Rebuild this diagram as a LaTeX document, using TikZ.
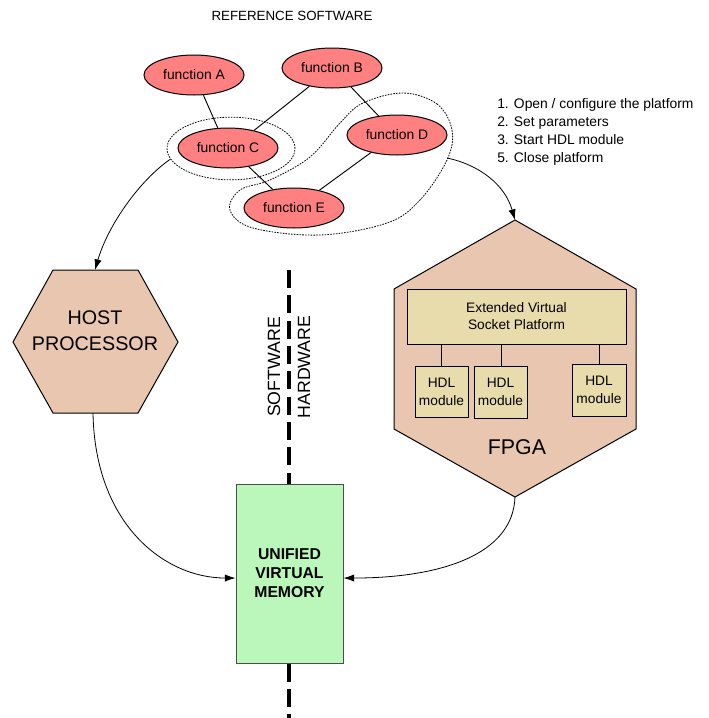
\documentclass[tikz,border=0pt]{standalone}
\usepackage{fontspec}
\setmainfont{Liberation Sans}
\usetikzlibrary{shapes.geometric,arrows.meta}
\definecolor{funcred}{HTML}{FF8080}
\definecolor{hexfill}{HTML}{E8C6AF}
\definecolor{boxfill}{HTML}{E8DCAD}
\definecolor{memfill}{HTML}{BBF7BA}
\tikzset{
  func/.style={ellipse, draw, line width=0.75pt, fill=funcred, minimum width=75pt, minimum height=30pt, inner sep=0pt, font=\fontsize{10.4}{12}\selectfont},
  link/.style={line width=0.7pt},
  grp/.style={line width=0.6pt, dash pattern=on 1.2pt off 0.9pt},
  hexa/.style={draw, line width=0.75pt, fill=hexfill},
  ybox/.style={draw, line width=0.75pt, fill=boxfill, inner sep=0pt, align=center},
  arr/.style={line width=0.6pt, -{Latex[length=8pt,width=5.5pt]}},
  divider/.style={line width=2.4pt, dash pattern=on 13.5pt off 5.5pt},
  plain/.style={inner sep=0pt, align=center}
}
\begin{document}
\begin{tikzpicture}[x=0.75pt,y=-0.75pt]
\path[use as bounding box] (0,0) rectangle (708,718);

% title
\node[plain, font=\fontsize{10}{12}\selectfont] (title) at (292,16) {REFERENCE SOFTWARE};

% function ellipses
\node[func] (A) at (194,75) {function A};
\node[func] (B) at (332,68) {function B};
\node[func] (C) at (228,148) {function C};
\node[func] (D) at (397,135) {function D};
\node[func] (E) at (294,208) {function E};

\draw[link] (A.-65) -- (C.117);
\draw[link] (B.-141) -- (C.34);
\draw[link] (B.-45) -- (D.134);
\draw[link] (D.-146) -- (E.35);
\draw[link] (C.-42) -- (E.139);

% dotted groups
\node[ellipse, grp, draw, minimum width=96pt, minimum height=47pt, inner sep=0pt] (grpC) at (231,148.5) {};
\draw[grp] plot[smooth cycle, tension=0.6] coordinates {(403,93) (437,104) (452,130) (447,160) (420,200) (387,223) (320,235) (253,228) (230,210) (240,190) (270,180) (310,157) (340,123) (363,103)};
\coordinate (blobOut) at (447,158);

% list
\node[anchor=west, align=left, inner sep=0pt, font=\fontsize{10.4}{13.5}\selectfont] (steps) at (497,132)
  {1. Open / configure the platform\\2. Set parameters\\3. Start HDL module\\5. Close platform};

% host processor hexagon
\draw[hexa] (53,270) -- (138,270) -- (178,342) -- (138,413) -- (53,413) -- (13,342) -- cycle;
\coordinate (hostTop) at (95,270);
\coordinate (hostBot) at (93,413);
\node[plain, font=\fontsize{14.8}{19.5}\selectfont] (host) at (95,331) {HOST\\PROCESSOR};

% FPGA hexagon
\draw[hexa] (515,220) -- (636,289) -- (636,429) -- (515,497) -- (394,429) -- (394,289) -- cycle;
\coordinate (fpgaTop) at (515,220);
\coordinate (fpgaBot) at (515,497);
\node[plain, font=\fontsize{16}{19}\selectfont] (fpga) at (517,447) {FPGA};

\node[ybox, minimum width=164.25pt, minimum height=41.25pt, font=\fontsize{10.3}{12.75}\selectfont] (plat) at (516.5,316.5) {Extended Virtual\\Socket Platform};
\node[ybox, minimum width=39.75pt, minimum height=38.25pt, font=\fontsize{10.3}{13.5}\selectfont] (hdl1) at (441.5,391.5) {HDL\\module};
\node[ybox, minimum width=39.75pt, minimum height=39pt, font=\fontsize{10.3}{13.5}\selectfont] (hdl2) at (500.5,392) {HDL\\module};
\node[ybox, minimum width=40.5pt, minimum height=39pt, font=\fontsize{10.3}{13.5}\selectfont] (hdl3) at (599,390) {HDL\\module};
\draw[link] (hdl1.north) -- (hdl1.north |- plat.south);
\draw[link] ([xshift=1pt]hdl2.north) -- ([xshift=1pt]hdl2.north |- plat.south);
\draw[link] (hdl3.north) -- (hdl3.north |- plat.south);

% unified memory
\node[draw=black!70, line width=0.75pt, fill=memfill, minimum width=80.25pt, minimum height=134.25pt, inner sep=0pt, align=center, font=\bfseries\fontsize{11.8}{14.3}\selectfont] (mem) at (289.5,573.5) {UNIFIED\\VIRTUAL\\MEMORY};

% software / hardware divider
\coordinate (divTop) at (289,270);
\coordinate (divBot) at (289,718);
\draw[divider] (divTop) -- (divTop |- mem.north);
\draw[divider] (divBot |- mem.south) -- (divBot);
\node[plain, rotate=90, font=\fontsize{13.3}{15}\selectfont] (sw) at (274,367) {SOFTWARE};
\node[plain, rotate=90, font=\fontsize{13.3}{15}\selectfont] (hw) at (304,367) {HARDWARE};

% arrows
\draw[arr] (grpC.190) .. controls (140,180) and (108,225) .. (hostTop);
\draw[arr] (blobOut) .. controls (480,165) and (505,185) .. (fpgaTop);
\draw[arr] (hostBot) .. controls (95,525) and (165,578) .. ([yshift=-3.4pt]mem.west);
\draw[arr] (fpgaBot) .. controls (513,555) and (440,578) .. ([yshift=-3.4pt]mem.east);
\end{tikzpicture}
\end{document}
